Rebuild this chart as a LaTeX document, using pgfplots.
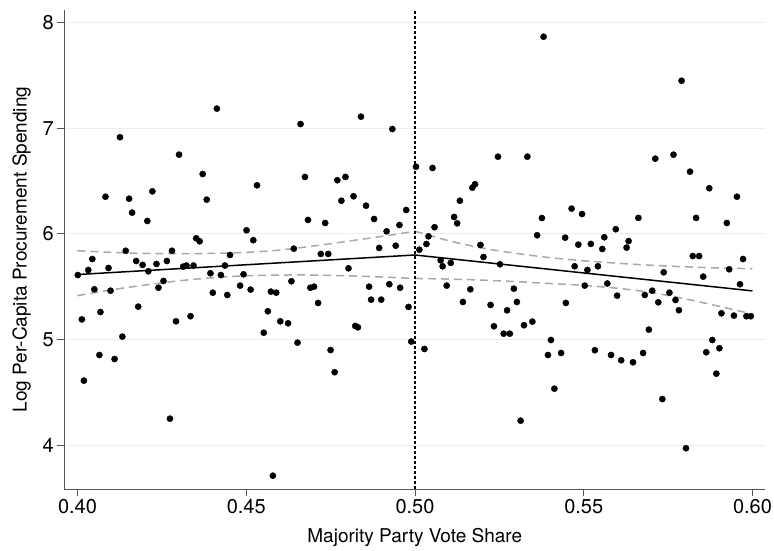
\documentclass[border=0pt]{standalone}
\usepackage{pgfplots}
\pgfplotsset{compat=1.18}
\usepackage{fontspec}
\setmainfont{TeX Gyre Heros}
\definecolor{cigray}{HTML}{A8A8A8}
\definecolor{gridgray}{HTML}{EDEDED}
\definecolor{axgray}{HTML}{555555}
\begin{document}
\begin{tikzpicture}
\path[use as bounding box] (-64.3pt,-61pt) rectangle (709.7pt,489pt);
\begin{axis}[
  scale only axis, width=701pt, height=479pt,
  xmin=0.3961, xmax=0.6038, ymin=3.584, ymax=8.12,
  axis lines*=left,
  axis line style={axgray, line width=0.9pt},
  tick style={axgray, line width=0.9pt},
  tick align=outside, major tick length=7pt,
  xtick={0.40,0.45,0.50,0.55,0.60},
  xticklabels={0.40,0.45,0.50,0.55,0.60},
  ytick={4,5,6,7,8},
  yticklabels={4,5,6,7,8},
  ymajorgrids, grid style={gridgray, line width=1pt},
  tick label style={font=\fontsize{20}{24}\selectfont},
  label style={font=\fontsize{19}{23}\selectfont},
  xlabel={Majority Party Vote Share},
  ylabel={Log Per-Capita Procurement Spending},
  xlabel style={at={(axis description cs:0.5,-0.1121)}, anchor=base},
  ylabel style={at={(axis description cs:-0.0536,0.5)}, anchor=base},
  clip=false,
]
\addplot[only marks, mark=*, mark size=3.1pt, black] coordinates {
(0.4413,7.186) (0.4126,6.915) (0.4301,6.750) (0.4371,6.567) (0.4083,6.352)
(0.4153,6.333) (0.4222,6.403) (0.4383,6.324) (0.4162,6.201) (0.4207,6.122)
(0.4532,6.460) (0.4501,6.034) (0.4521,5.940) (0.4352,5.958) (0.4362,5.930)
(0.4143,5.840) (0.4280,5.840) (0.4044,5.762) (0.4174,5.743) (0.4265,5.743)
(0.4193,5.706) (0.4234,5.715) (0.4452,5.800) (0.4092,5.677) (0.4313,5.690)
(0.4323,5.700) (0.4344,5.700) (0.4437,5.700) (0.4032,5.658) (0.4001,5.610)
(0.4394,5.627) (0.4425,5.610) (0.4492,5.617) (0.4210,5.646) (0.4482,5.510)
(0.4255,5.554) (0.4240,5.490) (0.4050,5.475) (0.4098,5.462) (0.4401,5.443)
(0.4444,5.421) (0.4180,5.311) (0.4068,5.260) (0.4013,5.190) (0.4292,5.172)
(0.4335,5.220) (0.4133,5.027) (0.4065,4.853) (0.4110,4.815) (0.4019,4.610)
(0.4274,4.250) (0.4513,5.472) (0.4674,6.539) (0.4770,6.508) (0.4794,6.539)
(0.4782,6.314) (0.4818,6.356) (0.4855,6.267) (0.4974,6.226) (0.4879,6.141)
(0.4954,6.084) (0.4916,6.024) (0.4683,6.132) (0.4734,6.103) (0.4894,5.867)
(0.4943,5.888) (0.4641,5.860) (0.4721,5.810) (0.4743,5.810) (0.4803,5.674)
(0.4573,5.453) (0.4589,5.443) (0.4634,5.551) (0.4690,5.490) (0.4701,5.500)
(0.4713,5.346) (0.4864,5.500) (0.4924,5.523) (0.4956,5.490) (0.4870,5.377)
(0.4900,5.377) (0.4981,5.308) (0.4564,5.267) (0.4601,5.172) (0.4624,5.153)
(0.4552,5.064) (0.4823,5.128) (0.4831,5.115) (0.4652,4.970) (0.4750,4.900)
(0.4989,4.980) (0.4661,7.040) (0.4840,7.110) (0.4933,6.993) (0.4579,3.710)
(0.4762,4.690)
(0.5003,6.636) (0.5052,6.624) (0.5246,6.731) (0.5170,6.438) (0.5178,6.470)
(0.5133,6.314) (0.5116,6.160) (0.5125,6.100) (0.5058,6.063) (0.5040,5.977)
(0.5034,5.904) (0.5013,5.850) (0.5194,5.895) (0.5203,5.781) (0.5076,5.750)
(0.5082,5.693) (0.5106,5.725) (0.5252,5.712) (0.5362,5.987) (0.5376,6.150)
(0.5464,6.239) (0.5495,6.188) (0.5445,5.964) (0.5484,5.898) (0.5521,5.905)
(0.5473,5.693) (0.5511,5.658) (0.5503,5.510) (0.5094,5.510) (0.5164,5.475)
(0.5142,5.355) (0.5293,5.481) (0.5302,5.355) (0.5224,5.327) (0.5273,5.276)
(0.5234,5.125) (0.5263,5.055) (0.5281,5.055) (0.5323,5.135) (0.5348,5.169)
(0.5447,5.346) (0.5403,4.995) (0.5394,4.853) (0.5433,4.872) (0.5028,4.910)
(0.5815,6.589) (0.5872,6.432) (0.5954,6.352) (0.5662,6.151) (0.5833,6.151)
(0.5924,6.103) (0.5595,6.044) (0.5561,5.968) (0.5555,5.857) (0.5633,5.932)
(0.5627,5.870) (0.5823,5.790) (0.5842,5.790) (0.5972,5.762) (0.5542,5.693)
(0.5931,5.665) (0.5737,5.636) (0.5854,5.595) (0.5963,5.523) (0.5570,5.530)
(0.5599,5.415) (0.5681,5.421) (0.5703,5.462) (0.5754,5.443) (0.5721,5.352)
(0.5772,5.374) (0.5782,5.277) (0.5908,5.248) (0.5945,5.226) (0.5982,5.220)
(0.5995,5.220) (0.5693,5.093) (0.5881,4.995) (0.5533,4.898) (0.5581,4.853)
(0.5611,4.803) (0.5646,4.784) (0.5676,4.872) (0.5863,4.879) (0.5902,4.917)
(0.5381,7.867) (0.5790,7.450) (0.5333,6.731) (0.5712,6.712) (0.5766,6.750)
(0.5313,4.231) (0.5413,4.534) (0.5733,4.436) (0.5803,3.970) (0.5893,4.676)
};
% confidence bands
\addplot[cigray, line width=1.5pt, dash pattern=on 8pt off 5pt, smooth, tension=0.5] coordinates {
(0.40,5.840) (0.41,5.825) (0.42,5.815) (0.43,5.812) (0.44,5.815) (0.45,5.825)
(0.46,5.847) (0.47,5.885) (0.48,5.930) (0.49,5.975) (0.50,6.025)};
\addplot[cigray, line width=1.5pt, dash pattern=on 8pt off 5pt, smooth, tension=0.5] coordinates {
(0.40,5.415) (0.41,5.470) (0.42,5.515) (0.43,5.555) (0.44,5.585) (0.45,5.603)
(0.46,5.610) (0.47,5.610) (0.48,5.603) (0.49,5.592) (0.50,5.578)};
\addplot[cigray, line width=1.5pt, dash pattern=on 8pt off 5pt, smooth, tension=0.5] coordinates {
(0.50,6.025) (0.51,5.935) (0.52,5.865) (0.53,5.815) (0.54,5.775) (0.55,5.745)
(0.56,5.722) (0.57,5.703) (0.58,5.688) (0.59,5.677) (0.60,5.670)};
\addplot[cigray, line width=1.5pt, dash pattern=on 8pt off 5pt, smooth, tension=0.5] coordinates {
(0.50,5.578) (0.51,5.572) (0.52,5.562) (0.53,5.548) (0.54,5.530) (0.55,5.512)
(0.56,5.485) (0.57,5.445) (0.58,5.385) (0.59,5.315) (0.60,5.240)};
% fitted lines
\addplot[black, line width=1.5pt] coordinates {(0.40,5.615) (0.50,5.800)};
\addplot[black, line width=1.5pt] coordinates {(0.50,5.800) (0.60,5.460)};
% cutoff
\addplot[black, line width=1.4pt, dash pattern=on 3pt off 2pt] coordinates {(0.50,3.584) (0.50,8.12)};
\end{axis}
\end{tikzpicture}
\end{document}
